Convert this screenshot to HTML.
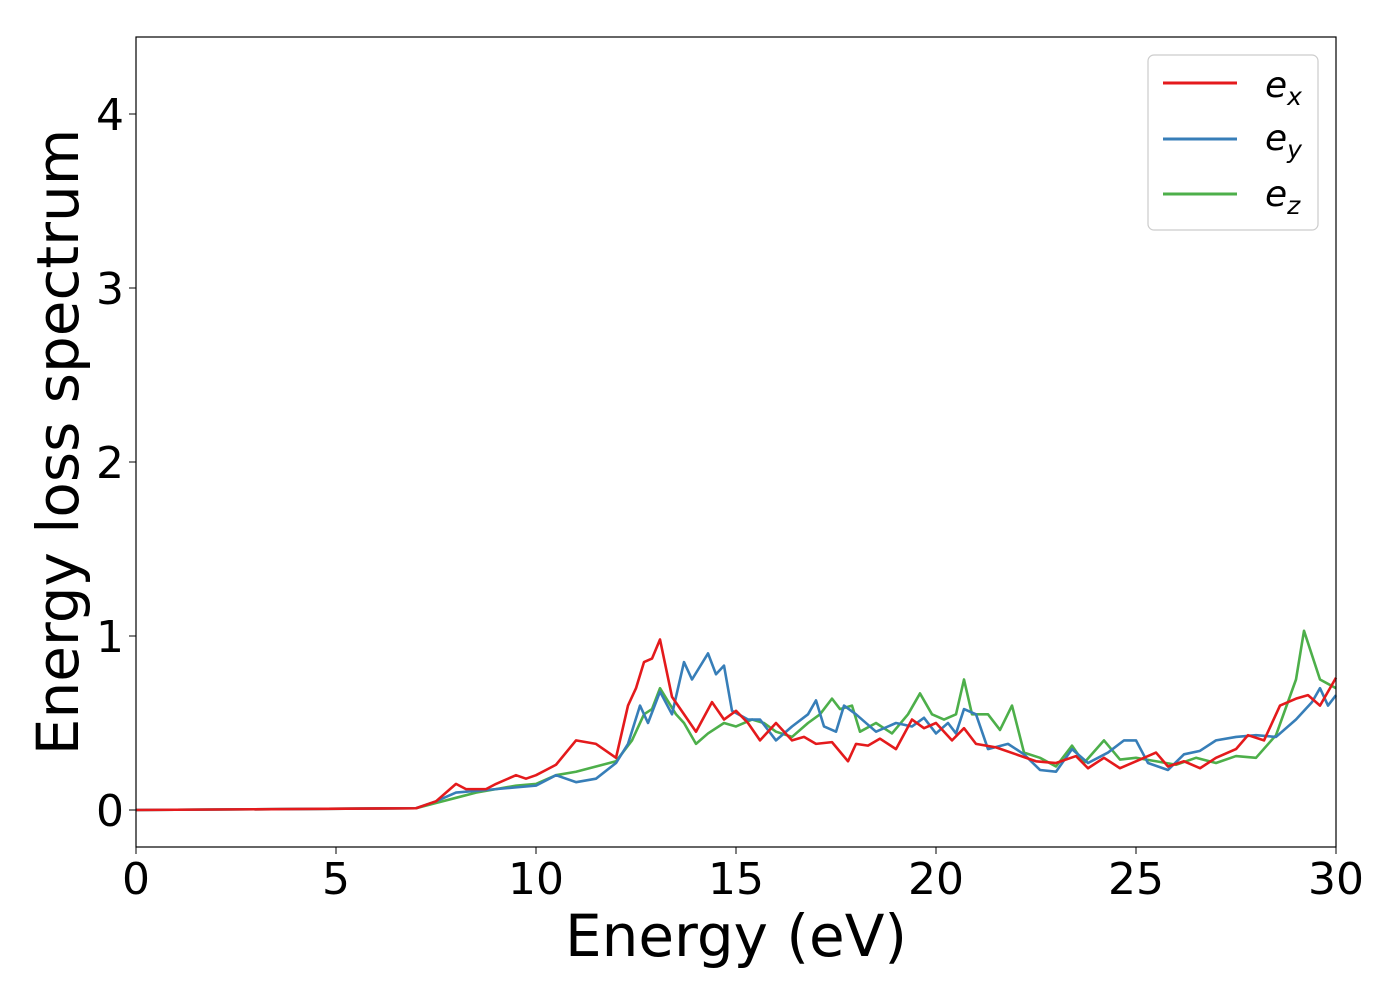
<!DOCTYPE html>
<html><head><meta charset="utf-8"><style>
body{margin:0;background:#fff}
svg{font-family:"DejaVu Sans","Liberation Sans",sans-serif}
</style></head><body>
<svg width="1400" height="1000" xmlns="http://www.w3.org/2000/svg">
<rect x="0" y="0" width="1400" height="1000" fill="#fff"/>
<g id="series"></g>
<rect x="136" y="37" width="1200" height="810" fill="none" stroke="#000" stroke-width="1.2"/>
<g id="xt"></g>
<g id="yt"></g>
<text x="736" y="956" font-size="58" text-anchor="middle">Energy (eV)</text>
<text transform="translate(78,442) rotate(-90)" font-size="58" text-anchor="middle">Energy loss spectrum</text>
<g>
<rect x="1148" y="55" width="170" height="175" rx="6" fill="#fff" stroke="#ccc" stroke-width="1.2"/>
<g><line x1="1163" y1="83" x2="1237" y2="83" stroke="#e41a1c" stroke-width="3"/><text x="1265" y="97" font-size="36" font-style="italic">e<tspan font-size="25" dy="8">x</tspan></text></g>
<g><line x1="1163" y1="139" x2="1237" y2="139" stroke="#377eb8" stroke-width="3"/><text x="1265" y="150" font-size="36" font-style="italic">e<tspan font-size="25" dy="8">y</tspan></text></g>
<g><line x1="1163" y1="194" x2="1237" y2="194" stroke="#4daf4a" stroke-width="3"/><text x="1265" y="206" font-size="36" font-style="italic">e<tspan font-size="25" dy="8">z</tspan></text></g>
</g>
</svg>
<script>
const xTicks=[0,5,10,15,20,25,30];
const yTicks=[0,1,2,3,4];
const exE=[0,7,7.5,8,8.25,8.75,9,9.5,9.75,10,10.25,10.5,11,11.5,12,12.3,12.5,12.7,12.9,13.1,13.4,13.7,14,14.4,14.7,15,15.3,15.6,16,16.4,16.7,17,17.4,17.8,18,18.3,18.6,19,19.4,19.7,20,20.4,20.7,21,21.5,22,22.5,23,23.5,23.8,24.2,24.6,25,25.5,25.8,26.2,26.6,27,27.5,27.8,28.2,28.6,29,29.3,29.6,30];
const exV=[0,0.01,0.05,0.15,0.12,0.12,0.15,0.2,0.18,0.2,0.23,0.26,0.4,0.38,0.3,0.6,0.7,0.85,0.87,0.98,0.65,0.55,0.45,0.62,0.52,0.57,0.5,0.4,0.5,0.4,0.42,0.38,0.39,0.28,0.38,0.37,0.41,0.35,0.52,0.47,0.5,0.4,0.47,0.38,0.36,0.32,0.28,0.27,0.31,0.24,0.3,0.24,0.28,0.33,0.25,0.28,0.24,0.3,0.35,0.43,0.4,0.6,0.64,0.66,0.6,0.76];
const eyE=[0,7,7.5,8,8.5,9,9.5,10,10.5,11,11.5,12,12.3,12.6,12.8,13.1,13.4,13.7,13.9,14.3,14.5,14.7,14.9,15.3,15.6,16,16.4,16.8,17,17.2,17.5,17.7,18,18.5,19,19.4,19.7,20,20.3,20.5,20.7,21,21.3,21.8,22.2,22.6,23,23.4,23.8,24.3,24.7,25,25.3,25.8,26.2,26.6,27,27.5,28,28.5,29,29.4,29.6,29.8,30];
const eyV=[0,0.01,0.05,0.1,0.11,0.12,0.13,0.14,0.2,0.16,0.18,0.27,0.38,0.6,0.5,0.68,0.55,0.85,0.75,0.9,0.78,0.83,0.57,0.52,0.52,0.4,0.48,0.55,0.63,0.48,0.45,0.6,0.55,0.45,0.5,0.48,0.53,0.44,0.5,0.44,0.58,0.55,0.35,0.38,0.32,0.23,0.22,0.35,0.27,0.33,0.4,0.4,0.27,0.23,0.32,0.34,0.4,0.42,0.43,0.42,0.52,0.62,0.7,0.6,0.66];
const ezE=[0,7,7.5,8,8.5,9,9.5,10,10.5,11,11.5,12,12.4,12.7,12.9,13.1,13.5,13.7,14,14.3,14.7,15,15.4,15.7,16,16.4,16.8,17.1,17.4,17.6,17.9,18.1,18.5,18.9,19.3,19.6,19.9,20.2,20.5,20.7,20.9,21.3,21.6,21.9,22.2,22.6,23,23.4,23.7,24.2,24.6,25,25.5,26,26.5,27,27.5,28,28.5,29,29.2,29.6,30];
const ezV=[0,0.01,0.04,0.07,0.1,0.12,0.14,0.15,0.2,0.22,0.25,0.28,0.4,0.55,0.58,0.7,0.55,0.5,0.38,0.44,0.5,0.48,0.52,0.5,0.45,0.42,0.5,0.55,0.64,0.58,0.6,0.45,0.5,0.44,0.55,0.67,0.55,0.52,0.55,0.75,0.55,0.55,0.46,0.6,0.33,0.3,0.25,0.37,0.27,0.4,0.29,0.3,0.28,0.26,0.3,0.27,0.31,0.3,0.43,0.75,1.03,0.75,0.7];
const NS='http://www.w3.org/2000/svg';
const xs=e=>136+e*40, ys=v=>810-v*174;
const g=document.getElementById('series');
function line(E,V,c,name){
  const p=document.createElementNS(NS,'polyline');
  p.setAttribute('points',E.map((e,i)=>xs(e)+','+ys(V[i])).join(' '));
  p.setAttribute('fill','none');p.setAttribute('stroke',c);p.setAttribute('stroke-width','2.6');p.setAttribute('stroke-linejoin','round');
  
  
  g.appendChild(p);
}
line(ezE,ezV,'#4daf4a','series-ez');
line(eyE,eyV,'#377eb8','series-ey');
line(exE,exV,'#e41a1c','series-ex');
const xt=document.getElementById('xt'), yt=document.getElementById('yt');
xTicks.forEach(t=>{
  const l=document.createElementNS(NS,'line');
  l.setAttribute('x1',xs(t));l.setAttribute('x2',xs(t));l.setAttribute('y1',847);l.setAttribute('y2',854);l.setAttribute('stroke','#000');
  
  
  xt.appendChild(l);
  const s=document.createElementNS(NS,'text');
  s.setAttribute('x',xs(t));s.setAttribute('y',894);s.setAttribute('font-size','44');s.setAttribute('text-anchor','middle');s.textContent=t;
  
  
  xt.appendChild(s);
});
yTicks.forEach(t=>{
  const l=document.createElementNS(NS,'line');
  l.setAttribute('x1',129);l.setAttribute('x2',136);l.setAttribute('y1',ys(t));l.setAttribute('y2',ys(t));l.setAttribute('stroke','#000');
  
  
  yt.appendChild(l);
  const s=document.createElementNS(NS,'text');
  s.setAttribute('x',124);s.setAttribute('y',ys(t)+16);s.setAttribute('font-size','44');s.setAttribute('text-anchor','end');s.textContent=t;
  
  
  yt.appendChild(s);
});
</script>
</body></html>
